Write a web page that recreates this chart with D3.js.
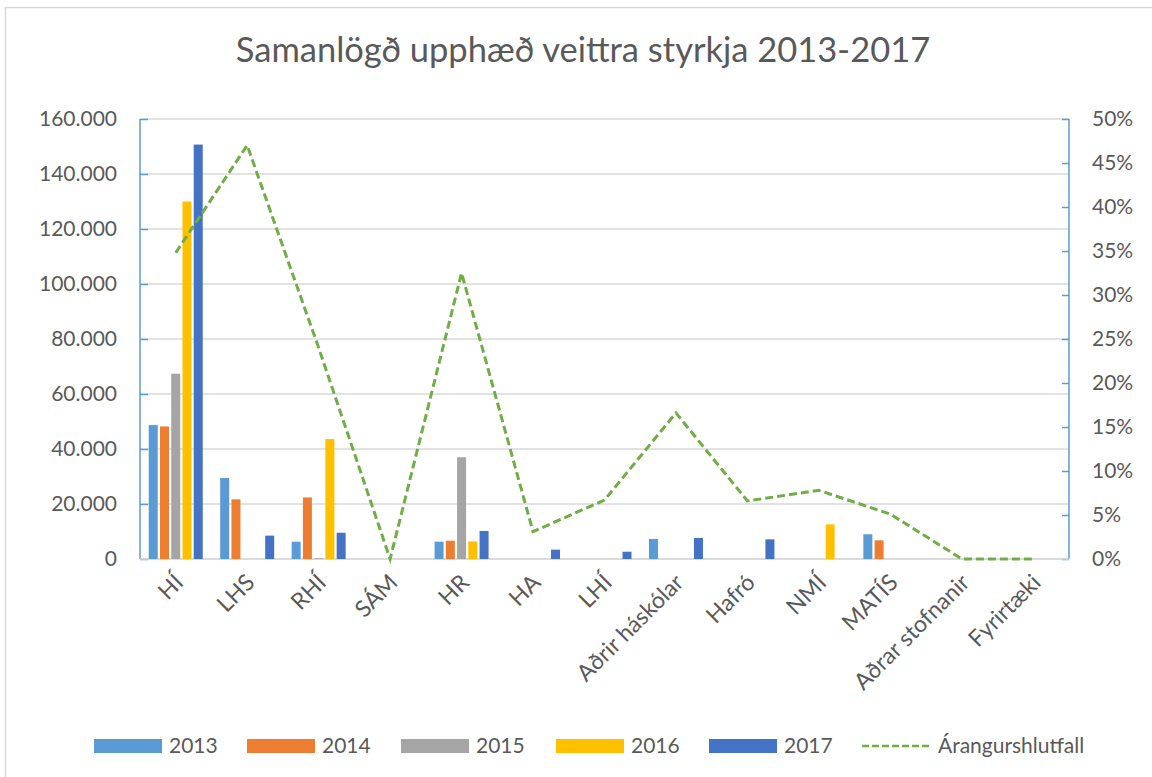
<!DOCTYPE html>
<html>
<head>
<meta charset="utf-8">
<script src="https://cdn.jsdelivr.net/npm/d3@7"></script>
<style>
  body { margin: 0; background: #fff; }
  text { font-family: Lato, "Open Sans", sans-serif; fill: #595959; }
</style>
</head>
<body>
<div class="chart"></div>
<script>
// data
var categories = ["HÍ", "LHS", "RHÍ", "SÁM", "HR", "HA", "LHÍ", "Aðrir háskólar", "Hafró", "NMÍ", "MATÍS", "Aðrar stofnanir", "Fyrirtæki"];
var years = ["2013", "2014", "2015", "2016", "2017"];
var v2013 = [48700, 29450, 6300, 0, 6300, 0, 0, 7300, 0, 0, 9000, 0, 0];
var v2014 = [48200, 21700, 22400, 0, 6650, 0, 0, 0, 0, 0, 6800, 0, 0];
var v2015 = [67400, 0, 300, 0, 37000, 0, 0, 0, 0, 0, 0, 0, 0];
var v2016 = [130000, 0, 43600, 0, 6400, 0, 0, 0, 0, 12600, 0, 0, 0];
var v2017 = [150700, 8500, 9550, 0, 10200, 3400, 2650, 7650, 7150, 0, 0, 0, 0];
var successRate = [0.348, 0.47, 0.24, 0, 0.325, 0.031, 0.067, 0.166, 0.066, 0.078, 0.051, 0, 0];
var leftTicks = [0, 20000, 40000, 60000, 80000, 100000, 120000, 140000, 160000];
var rightTicks = [0, 0.05, 0.1, 0.15, 0.2, 0.25, 0.3, 0.35, 0.4, 0.45, 0.5];

(function () {
  var seriesValues = [v2013, v2014, v2015, v2016, v2017];
  var colors = ["#5B9BD5", "#ED7D31", "#A5A5A5", "#FFC000", "#4472C4"];
  var lineColor = "#70AD47";

  var width = 1152, height = 777;
  var plotLeft = 140, plotRight = 1069, plotTop = 119, plotBottom = 559;

  var svg = d3.select(".chart")
    .append("svg")
    .attr("width", width)
    .attr("height", height);

  // outer frame
  svg.append("rect")
    .attr("x", 5.5).attr("y", 7.5)
    .attr("width", 1160).attr("height", 790)
    .attr("fill", "none").attr("stroke", "#d9d9d9").attr("stroke-width", 1.5);

  // title
  svg.append("text")
    .attr("x", 583).attr("y", 62)
    .attr("text-anchor", "middle")
    .style("font-size", "34.5px")
    .text("Samanlögð upphæð veittra styrkja 2013-2017");

  var x0 = d3.scaleBand().domain(categories).range([plotLeft, plotRight]).padding(0);
  var x1 = d3.scaleBand().domain(years).range([-27, 27]).paddingInner(0.2);
  var y = d3.scaleLinear().domain([0, 160000]).range([plotBottom, plotTop]);
  var y2 = d3.scaleLinear().domain([0, 0.5]).range([plotBottom, plotTop]);

  // gridlines
  svg.append("g")
    .selectAll("line")
    .data(leftTicks)
    .enter()
    .append("line")
    .attr("x1", plotLeft).attr("x2", plotRight)
    .attr("y1", d => y(d)).attr("y2", d => y(d))
    .style("stroke", "#d9d9d9")
    .style("stroke-width", 1.5);

  // left axis
  var leftAxis = svg.append("g")
    .attr("transform", "translate(" + plotLeft + ",0)")
    .call(d3.axisRight(y).tickValues(leftTicks).tickSize(8)
      .tickFormat(d => d3.format(",")(d).replace(/,/g, ".")));
  leftAxis.select(".domain").attr("stroke", "#5B9BD5").attr("stroke-width", 1.5)
    .attr("d", "M0," + plotTop + "V" + plotBottom);
  leftAxis.selectAll(".tick line").attr("stroke", "#5B9BD5").attr("stroke-width", 1.5);
  leftAxis.selectAll(".tick text")
    .attr("x", -23).attr("text-anchor", "end")
    .style("font-size", "21px").style("font-family", "Lato, sans-serif").attr("fill", "#595959");

  // right axis
  var rightAxis = svg.append("g")
    .attr("transform", "translate(" + plotRight + ",0)")
    .call(d3.axisLeft(y2).tickValues(rightTicks).tickSize(7).tickFormat(d3.format(".0%")));
  rightAxis.select(".domain").attr("stroke", "#5B9BD5").attr("stroke-width", 1.5)
    .attr("d", "M0," + plotTop + "V" + plotBottom);
  rightAxis.selectAll(".tick line").attr("stroke", "#5B9BD5").attr("stroke-width", 1.5);
  rightAxis.selectAll(".tick text")
    .attr("x", 23).attr("text-anchor", "start")
    .style("font-size", "21px").style("font-family", "Lato, sans-serif").attr("fill", "#595959");

  // category axis line
  svg.append("line")
    .attr("x1", plotLeft).attr("x2", plotRight)
    .attr("y1", plotBottom).attr("y2", plotBottom)
    .style("stroke", "#d9d9d9").style("stroke-width", 1.5);

  // bars
  var groups = svg.append("g")
    .selectAll("g")
    .data(categories)
    .enter()
    .append("g")
    .attr("transform", d => "translate(" + (x0(d) + x0.bandwidth() / 2) + ",0)");

  groups.selectAll("rect")
    .data((d, i) => years.map((yr, j) => ({ year: yr, value: seriesValues[j][i], color: colors[j] }))
      .filter(e => e.value > 0))
    .enter()
    .append("rect")
    .attr("x", d => x1(d.year))
    .attr("width", x1.bandwidth())
    .attr("y", d => y(d.value))
    .attr("height", d => plotBottom - y(d.value))
    .style("fill", d => d.color);

  // success rate line
  var line = d3.line()
    .x((d, i) => x0(categories[i]) + x0.bandwidth() / 2)
    .y(d => y2(d));

  svg.append("path")
    .datum(successRate)
    .attr("d", line)
    .attr("fill", "none")
    .attr("stroke", lineColor)
    .attr("stroke-width", 3)
    .attr("stroke-dasharray", "8,4");

  // category labels
  svg.append("g")
    .selectAll("text")
    .data(categories)
    .enter()
    .append("text")
    .attr("transform", d => "translate(" + (x0(d) + x0.bandwidth() / 2 + 9) + "," + (plotBottom + 25) + ") rotate(-45)")
    .attr("text-anchor", "end")
    .style("font-size", "23px")
    .text(d => d);

  // legend
  var legendX = [94, 247, 401, 556, 709];
  var legend = svg.append("g");
  years.forEach(function (yr, j) {
    legend.append("rect")
      .attr("x", legendX[j]).attr("y", 739)
      .attr("width", 68).attr("height", 14)
      .style("fill", colors[j]);
    legend.append("text")
      .attr("x", legendX[j] + 75).attr("y", 753)
      .style("font-size", "21px")
      .text(yr);
  });
  legend.append("line")
    .attr("x1", 862).attr("x2", 932)
    .attr("y1", 746).attr("y2", 746)
    .attr("stroke", lineColor)
    .attr("stroke-width", 2.5)
    .attr("stroke-dasharray", "7,3");
  legend.append("text")
    .attr("x", 938).attr("y", 753)
    .style("font-size", "21px")
    .text("Árangurshlutfall");
})();
</script>
</body>
</html>
